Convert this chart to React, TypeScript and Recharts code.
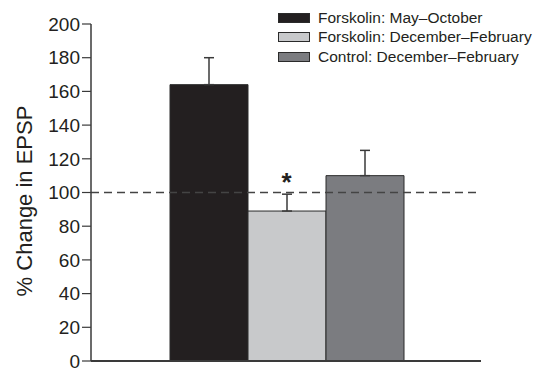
import React from 'react';
import {
  BarChart,
  Bar,
  XAxis,
  YAxis,
  ErrorBar,
  ReferenceLine,
  ReferenceDot,
} from 'recharts';

const groups = [
  'Forskolin: May–October',
  'Forskolin: December–February',
  'Control: December–February',
];
const means = [164, 89, 110];
const sems = [16, 10, 15];
const colors = ['#231f20', '#c8c9cb', '#7b7c80'];
const yTicks = [0, 20, 40, 60, 80, 100, 120, 140, 160, 180, 200];
const baseline = 100;
const asteriskAt = 101;

const FONT = '"Liberation Sans", Arial, Helvetica, sans-serif';
const INK = '#231f20';

const row: Record<string, any> = { name: 'all' };
groups.forEach((g, i) => {
  row[`g${i}`] = means[i];
  row[`g${i}err`] = [0, sems[i]];
});
const data = [row];

// legend sits on top of the chart, so it doesn't eat plot space
function LegendBox() {
  return (
    <div
      style={{
        position: 'absolute',
        left: 278,
        top: 8,
        fontFamily: FONT,
        fontSize: 15.5,
        color: INK,
      }}
    >
      {groups.map((g, i) => (
        <div key={g} style={{ display: 'flex', alignItems: 'center', height: 19.5 }}>
          <span
            style={{
              display: 'inline-block',
              width: 30,
              height: 8,
              background: colors[i],
              border: '1px solid #2a2a2a',
              marginRight: 8,
            }}
          />
          <span style={{ whiteSpace: 'nowrap' }}>{g}</span>
        </div>
      ))}
    </div>
  );
}

function YLabel() {
  return (
    <text
      x={24}
      y={201}
      transform="rotate(-90, 24, 201)"
      textAnchor="middle"
      dominantBaseline="central"
      fontFamily={FONT}
      fontSize={22}
      fill={INK}
    >
      % Change in EPSP
    </text>
  );
}

export default function App() {
  return (
    <div style={{ position: 'absolute', left: 0, top: 0, width: 537, height: 368, background: '#fff' }}>
      <BarChart
        width={537}
        height={368}
        data={data}
        margin={{ top: 24, right: 56, bottom: 6, left: 0 }}
        barCategoryGap={0}
        barGap={0}
      >
        <XAxis
          dataKey="name"
          height={1}
          tick={false}
          tickLine={false}
          axisLine={{ stroke: '#3a3a3a', strokeWidth: 2 }}
          padding={{ left: 79, right: 78 }}
        />
        <YAxis
          width={91}
          domain={[0, 200]}
          ticks={yTicks}
          interval={0}
          tickSize={9}
          tickMargin={2}
          tick={{ fontFamily: FONT, fontSize: 19, fill: INK }}
          tickLine={{ stroke: '#3a3a3a', strokeWidth: 1.2 }}
          axisLine={{ stroke: '#3a3a3a', strokeWidth: 1.5 }}
          label={<YLabel />}
        />
        {groups.map((g, i) => (
          <Bar
            key={g}
            dataKey={`g${i}`}
            name={g}
            fill={colors[i]}
            stroke="#2a2a2a"
            strokeWidth={1}
            isAnimationActive={false}
          >
            <ErrorBar
              dataKey={`g${i}err`}
              direction="y"
              width={5}
              stroke="#3a3a3a"
              strokeWidth={1.5}
              isAnimationActive={false}
            />
          </Bar>
        ))}
        <ReferenceLine
          y={baseline}
          stroke="#444"
          strokeWidth={1.3}
          strokeDasharray="8 5"
          ifOverflow="visible"
        />
        <ReferenceDot
          x="all"
          y={asteriskAt}
          r={0}
          ifOverflow="visible"
          shape={(p: any) => (
            <text
              x={p.cx}
              y={p.cy}
              textAnchor="middle"
              fontFamily={FONT}
              fontSize={26}
              fontWeight="bold"
              fill={INK}
            >
              *
            </text>
          )}
        />
      </BarChart>
      <LegendBox />
    </div>
  );
}
